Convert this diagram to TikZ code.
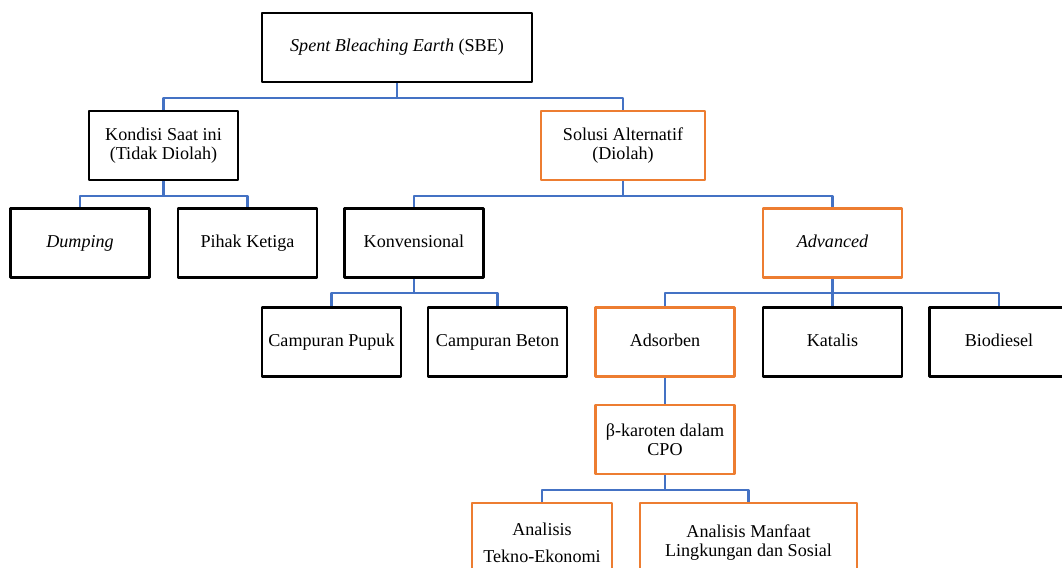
\documentclass[tikz,border=0pt]{standalone}
\usepackage{fontspec}
\setmainfont{Liberation Serif}
\definecolor{busblue}{HTML}{4472C4}
\definecolor{hotorange}{HTML}{ED7D31}
\begin{document}
\begin{tikzpicture}[x=0.02cm, y=-0.02cm, font=\fontsize{10.3}{10.8}\selectfont, line join=round,
    box/.style={draw=black, line width=1.5pt, align=center, inner sep=2pt, minimum height=1.38cm, minimum width=2.78cm},
    hot/.style={box, draw=hotorange},
    oneline/.style={text height=1.6ex, text depth=0.5ex},
    link/.style={draw=busblue, line width=1.35pt}]
  \useasboundingbox (0,0) rectangle (1062,568);
  \clip (0,0) rectangle (1062,568);
  % root and first level
  \node[box, oneline, minimum width=5.4cm] (sbe) at (397,47.5) {\textit{Spent Bleaching Earth} (SBE)};
  \node[box, minimum width=2.98cm] (kondisi) at (163.5,145.5) {Kondisi Saat ini\\(Tidak Diolah)};
  \node[hot, minimum width=3.28cm] (solusi) at (623,145.5) {Solusi Alternatif\\(Diolah)};
  % second level
  \node[box, oneline] (dumping) at (80,243) {\textit{Dumping}};
  \node[box, oneline] (pihak) at (247.5,243) {Pihak Ketiga};
  \node[box, oneline] (konv) at (414,243) {Konvensional};
  \node[hot, oneline] (advanced) at (832.5,243) {\textit{Advanced}};
  % third level
  \node[box, oneline] (pupuk) at (331.5,342) {Campuran Pupuk};
  \node[box, oneline] (beton) at (497.5,342) {Campuran Beton};
  \node[hot, oneline] (adsorben) at (665,342) {Adsorben};
  \node[box, oneline] (katalis) at (832.5,342) {Katalis};
  \node[box, oneline] (biodiesel) at (999,342) {Biodiesel};
  % adsorben branch
  \node[hot] (karoten) at (665,439.5) {β-karoten dalam\\CPO};
  \node[hot, minimum width=2.8cm, minimum height=1.58cm] (tekno) at (542,542.5) {Analisis\\[4.5pt]Tekno-Ekonomi};
  \node[hot, minimum width=4.34cm, minimum height=1.58cm] (lingkungan) at (748.5,542.5) {Analisis Manfaat\\Lingkungan dan Sosial};
  % connectors
  \foreach \p/\c in {sbe/kondisi, sbe/solusi, kondisi/dumping, kondisi/pihak,
      solusi/konv, solusi/advanced, konv/pupuk, konv/beton,
      advanced/adsorben, advanced/katalis, advanced/biodiesel,
      adsorben/karoten, karoten/tekno, karoten/lingkungan}
    \draw[link] (\p.south) -- ++(0,14.5) -| (\c.north);
\end{tikzpicture}
\end{document}
